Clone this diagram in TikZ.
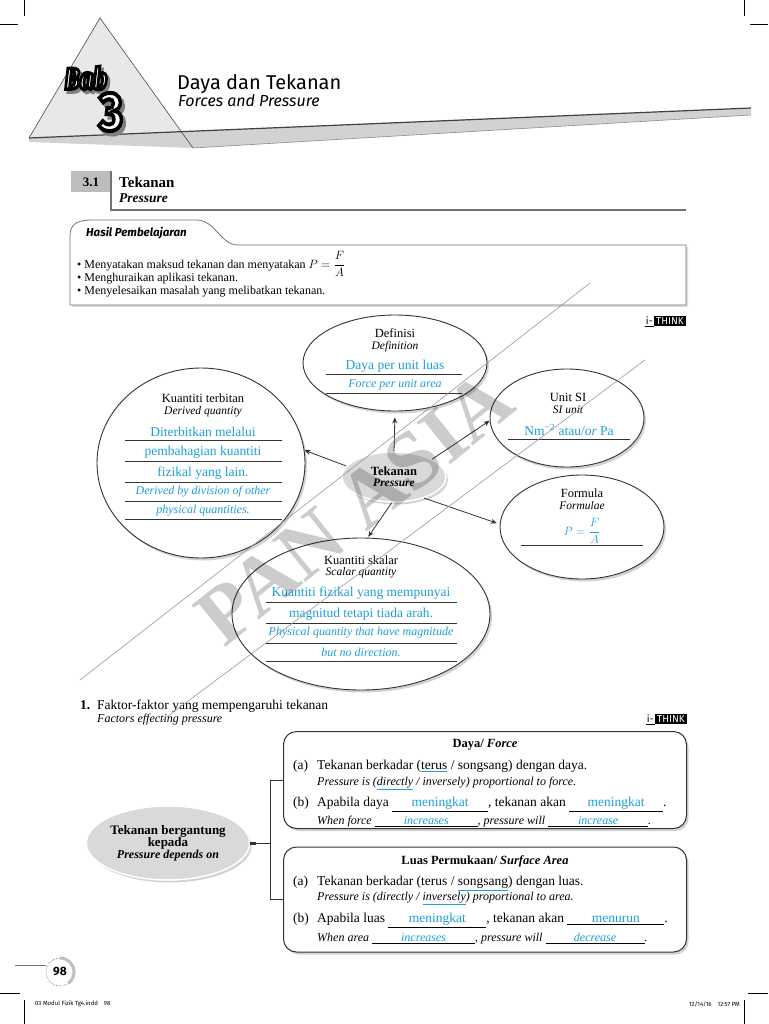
\documentclass[tikz,border=0pt]{standalone}
\usepackage{fontspec}
\setmainfont{Liberation Serif}
\newfontfamily\hdrfont{Fira Sans}
\usepackage{amsmath}
\usepackage{xcolor}
\definecolor{cAns}{HTML}{1D9FDB}
\definecolor{cInk}{HTML}{333333}
\definecolor{cHub}{HTML}{D9D9D9}
\definecolor{cSec}{HTML}{BDBDBD}
\usepackage{tikz}
\usetikzlibrary{positioning,arrows.meta,shapes.geometric,shadows,calc}

% blank to fill in, and a chosen word
\newcommand{\ansblank}[2]{\underline{\makebox[#1]{\textcolor{cAns}{#2}}}}
\newcommand{\pick}[1]{\textcolor{cAns}{\underline{\textcolor{black}{#1}}}}
% letters with a rim: width, rim grey level, text
\newcommand{\rimtext}[3]{\special{pdf:literal direct #1 w #2 G 2 Tr}#3\special{pdf:literal direct 0 Tr}}

\tikzset{
  bubble/.style={ellipse,draw=cInk,line width=0.9pt,fill=white,inner sep=0pt,
    drop shadow={shadow xshift=2pt,shadow yshift=-2.5pt,opacity=0.35}},
  hub/.style={ellipse,draw=white,line width=1.5pt,fill=cHub,inner sep=0pt,
    drop shadow={shadow xshift=2pt,shadow yshift=-2.5pt,opacity=0.35}},
  lbl/.style={inner sep=0pt,font=\fontsize{12.5}{14}\selectfont},
  lbl-it/.style={inner sep=0pt,font=\fontsize{11.5}{13}\selectfont\itshape},
  ans/.style={inner sep=0pt,text=cAns,font=\fontsize{13.5}{15}\selectfont},
  ans-it/.style={inner sep=0pt,text=cAns,font=\fontsize{12}{14}\selectfont\itshape},
  ans-line/.style={draw=cInk,line width=0.8pt},
  arrow/.style={-{Stealth[length=6pt,width=5pt]},draw=cInk,line width=0.8pt},
  card/.style={draw=cInk,line width=1pt,rounded corners=13pt,fill=white,
    drop shadow={shadow xshift=2pt,shadow yshift=-2.5pt,opacity=0.35}},
  row/.style={anchor=base west,inner sep=0pt,font=\fontsize{13.5}{15}\selectfont},
  row-it/.style={anchor=base west,inner sep=0pt,font=\fontsize{12}{14}\selectfont\itshape},
  link/.style={draw=cInk,line width=0.8pt},
  crop-line/.style={draw=black,line width=0.6pt},
  tag-box/.style={fill=black,text=white,inner xsep=2pt,inner ysep=1.5pt,
    font=\hdrfont\fontsize{10}{10}\selectfont},
  tag-i/.style={inner sep=1pt,font=\hdrfont\fontsize{10}{10}\selectfont},
  bab-txt/.style={font=\hdrfont\bfseries\itshape\fontsize{30}{30}\selectfont,xscale=0.8,transform shape,inner sep=0pt},
  num-txt/.style={font=\hdrfont\bfseries\fontsize{54}{54}\selectfont,xscale=0.85,transform shape,inner sep=0pt},
  bullet-row/.style={anchor=base west,inner sep=0pt,font=\fontsize{12}{14}\selectfont},
  foot-txt/.style={inner sep=0pt,font=\hdrfont\fontsize{6}{7}\selectfont},
  wm-text/.style={text=black,opacity=0.2,rotate=39,inner sep=0pt,
    font=\bfseries\fontsize{82}{82}\selectfont},
  wm-line/.style={draw=black!40,line width=0.6pt},
}

\begin{document}
\begin{tikzpicture}[x=1pt,y=-1pt]
  \useasboundingbox (0,0) rectangle (768,1024);
  \fill[white] (0,0) rectangle (768,1024);

  % crop marks
  \draw[crop-line] (24,0) -- (24,16);
  \draw[crop-line] (0,24) -- (18,24);
  \draw[crop-line] (744,0) -- (744,16);
  \draw[crop-line] (750,24) -- (768,24);
  \draw[crop-line] (0,993) -- (20,993);
  \draw[crop-line] (24,1000) -- (24,1024);
  \draw[crop-line] (748,993) -- (768,993);
  \draw[crop-line] (744,1000) -- (744,1024);

  % chapter header
  \fill[gray!18] (100,18) -- (29,138) -- (193,148) -- cycle;
  \fill[gray!35] (29,138) -- (751,108) -- (751,115) -- (193,148) -- (29,142) -- cycle;
  \draw[black!70,line width=0.6pt] (29,138) -- (100,18) -- (193,148);
  \draw[black!75,line width=1.2pt] (29,138) -- (751,108);
  \draw[black!45,line width=0.6pt] (193,148) -- (751,115);

  \node[bab-txt,text=black!50,xshift=3pt,yshift=-3pt] (bab-sh) at (86,78) {\rimtext{3.4}{0.5}{Bab}};
  \node[bab-txt,text=white] (bab) at (86,78) {\rimtext{3.4}{0}{Bab}};
  \node[num-txt,text=black!50,xshift=3.5pt,yshift=-3.5pt] (num-sh) at (111,112) {\rimtext{4}{0.5}{3}};
  \node[num-txt,text=white] (num) at (111,112) {\rimtext{4}{0}{3}};

  \node[anchor=base west,inner sep=0pt,font=\hdrfont\fontsize{20}{22}\selectfont] (ttl) at (177,90) {Daya dan Tekanan};
  \node[anchor=base west,inner sep=0pt,font=\hdrfont\itshape\fontsize{16}{18}\selectfont] (ttl-en) at (178,107) {Forces and Pressure};

  % section 3.1
  \node[fill=cSec,minimum width=40pt,minimum height=21pt,inner sep=0pt,
    font=\bfseries\fontsize{13}{13}\selectfont] (sec) at (91,182) {3.1};
  \coordinate (sec-end) at (686,210);
  \draw[black!55,line width=1.5pt] (sec.north east) |- (sec-end);
  \node[anchor=west,inner sep=0pt,font=\bfseries\fontsize{15}{15}\selectfont] (sec-ttl) at (119,182) {Tekanan};
  \node[anchor=west,inner sep=0pt,font=\bfseries\itshape\fontsize{13.5}{14}\selectfont] (sec-en) at (119,198) {Pressure};

  % learning outcomes
  \path[draw=black!55,line width=0.8pt,fill=white,
    drop shadow={shadow xshift=2pt,shadow yshift=-2pt,opacity=0.25}]
    (70,305) -- (70,236) .. controls (70,225) and (76,220) .. (92,220)
    -- (196,220) .. controls (216,220) and (220,245) .. (238,245)
    -- (686,245) -- (686,305) -- cycle;
  \node[anchor=west,inner sep=0pt,font=\hdrfont\bfseries\itshape\fontsize{11.5}{12}\selectfont] (hasil) at (86,233) {Hasil Pembelajaran};
  \node[bullet-row] (hasil-1) at (77,268) {\textbullet\ Menyatakan maksud tekanan dan menyatakan $P = \dfrac{F}{A}$};
  \node[bullet-row] (hasil-2) at (77,281) {\textbullet\ Menghuraikan aplikasi tekanan.};
  \node[bullet-row] (hasil-3) at (77,294) {\textbullet\ Menyelesaikan masalah yang melibatkan tekanan.};

  % i-THINK map
  \node[tag-box] (think-map) at (670,321) {THINK};
  \node[tag-i,left=0pt of think-map] (think-map-i) {i-};
  \draw[black,line width=0.5pt] (think-map-i.south west) -- (think-map-i.south east);

  \node[bubble,minimum width=208pt,minimum height=190pt] (terb) at (201,463) {};
  \node[bubble,minimum width=184pt,minimum height=96pt] (def) at (395,363) {};
  \node[bubble,minimum width=154pt,minimum height=98pt] (unit) at (567,418) {};
  \node[bubble,minimum width=164pt,minimum height=104pt] (form) at (582,527) {};
  \node[bubble,minimum width=258pt,minimum height=152pt] (skal) at (361,614) {};
  \node[hub,minimum width=104pt,minimum height=50pt,align=center] (tek) at (394,477)
    {\fontsize{12.5}{13}\selectfont\bfseries Tekanan\\[-1pt]
     \fontsize{11.5}{12}\selectfont\bfseries\itshape Pressure};

  \draw[arrow,shorten >=6pt] (tek.90) -- (def.270);
  \draw[arrow] (tek.25) -- (unit.182);
  \draw[arrow,shorten >=3pt] (tek.-35) -- (form.178);
  \draw[arrow,shorten >=1pt] (tek.-95) -- (skal.85);
  \draw[arrow] (tek.167) -- (terb.7);

  % definisi
  \node[lbl] (def-a) at (395,333) {Definisi};
  \node[lbl-it] (def-b) at (395,347) {Definition};
  \node[ans] (def-c) at (395,366) {Daya per unit luas};
  \draw[ans-line] (326,374) -- (462,374);
  \node[ans-it] (def-d) at (395,385) {Force per unit area};
  \draw[ans-line] (326,393) -- (462,393);

  % unit SI
  \node[lbl] (unit-a) at (568,397) {Unit SI};
  \node[lbl-it] (unit-b) at (568,410) {SI unit};
  \node[ans] (unit-c) at (569,430) {Nm\textsuperscript{−2} atau/\textit{or} Pa};
  \draw[ans-line] (508,439) -- (630,439);

  % formula
  \node[lbl] (form-a) at (582,493) {Formula};
  \node[lbl-it] (form-b) at (582,506) {Formulae};
  \node[ans-it] (form-c) at (582,531) {$P = \dfrac{F}{A}$};
  \draw[ans-line] (521,545) -- (643,545);

  % kuantiti terbitan
  \node[lbl] (terb-a) at (203,398) {Kuantiti terbitan};
  \node[lbl-it] (terb-b) at (203,412) {Derived quantity};
  \node[ans] (terb-c) at (203,432) {Diterbitkan melalui};
  \draw[ans-line] (125,440) -- (282,440);
  \node[ans] (terb-d) at (203,452) {pembahagian kuantiti};
  \draw[ans-line] (125,461) -- (282,461);
  \node[ans] (terb-e) at (203,473) {fizikal yang lain.};
  \draw[ans-line] (125,482) -- (282,482);
  \node[ans-it] (terb-f) at (203,492) {Derived by division of other};
  \draw[ans-line] (125,501) -- (282,501);
  \node[ans-it] (terb-g) at (203,511) {physical quantities.};
  \draw[ans-line] (125,519) -- (282,519);

  % kuantiti skalar
  \node[lbl] (skal-a) at (361,560) {Kuantiti skalar};
  \node[lbl-it] (skal-b) at (361,573) {Scalar quantity};
  \node[ans] (skal-c) at (361,593) {Kuantiti fizikal yang mempunyai};
  \draw[ans-line] (266,602) -- (457,602);
  \node[ans] (skal-d) at (361,614) {magnitud tetapi tiada arah.};
  \draw[ans-line] (266,623) -- (457,623);
  \node[ans-it] (skal-e) at (361,633) {Physical quantity that have magnitude};
  \draw[ans-line] (266,643) -- (457,643);
  \node[ans-it] (skal-f) at (361,652) {but no direction.};
  \draw[ans-line] (266,661) -- (457,661);

  % question 1
  \node[row,font=\bfseries\fontsize{13.5}{15}\selectfont] (q1-num) at (80,709) {1.};
  \node[row] (q1) at (97,709) {Faktor-faktor yang mempengaruhi tekanan};
  \node[row-it] (q1-en) at (97,722) {Factors effecting pressure};

  \node[tag-box] (think-q1) at (671,719) {THINK};
  \node[tag-i,left=0pt of think-q1] (think-q1-i) {i-};
  \draw[black,line width=0.5pt] (think-q1-i.south west) -- (think-q1-i.south east);

  \node[card,minimum width=403pt,minimum height=97pt] (daya) at (485,780) {};
  \node[card,minimum width=403pt,minimum height=105pt] (luas) at (485,899.5) {};

  \node[hub,minimum width=140pt,minimum height=74pt,align=center] (dep) at (168,843)
    {\fontsize{13}{12.5}\selectfont\bfseries Tekanan bergantung\\
     \fontsize{13}{12.5}\selectfont\bfseries kepada\\
     \fontsize{12}{12.5}\selectfont\bfseries\itshape Pressure depends on};
  \fill[cInk] ($(dep.east)+(0,-1.5)$) rectangle ++(6,3);
  \draw[link] (dep.east) -- ++(20,0) coordinate (fork) |- (daya.west);
  \draw[link] (fork) |- (luas.west);

  % daya
  \node[inner sep=0pt,font=\bfseries\fontsize{12.5}{14}\selectfont] (daya-t) at (485,745) {Daya/ \textit{Force}};
  \node[row] (daya-a) at (293,769) {(a)};
  \node[row] (daya-a1) at (317,769) {Tekanan berkadar (\pick{terus} / songsang) dengan daya.};
  \node[row-it] (daya-a2) at (317,785) {Pressure is (\pick{directly} / inversely) proportional to force.};
  \node[row] (daya-b) at (293,806) {(b)};
  \node[row] (daya-b1) at (317,806) {Apabila daya \ansblank{96pt}{meningkat}, tekanan akan \ansblank{94pt}{meningkat}.};
  \node[row-it] (daya-b2) at (317,824) {When force \ansblank{103pt}{increases}, pressure will \ansblank{100pt}{increase}.};

  % luas permukaan
  \node[inner sep=0pt,font=\bfseries\fontsize{12.5}{14}\selectfont] (luas-t) at (485,861) {Luas Permukaan/ \textit{Surface Area}};
  \node[row] (luas-a) at (293,885) {(a)};
  \node[row] (luas-a1) at (317,885) {Tekanan berkadar (terus / \pick{songsang}) dengan luas.};
  \node[row-it] (luas-a2) at (317,900) {Pressure is (directly / \pick{inversely}) proportional to area.};
  \node[row] (luas-b) at (293,922) {(b)};
  \node[row] (luas-b1) at (317,922) {Apabila luas \ansblank{98pt}{meningkat}, tekanan akan \ansblank{97pt}{menurun}.};
  \node[row-it] (luas-b2) at (317,941) {When area \ansblank{103pt}{increases}, pressure will \ansblank{99pt}{decrease}.};

  % page number
  \node[inner sep=0pt,font=\hdrfont\bfseries\fontsize{12}{12}\selectfont] (pg) at (60,972) {98};
  \draw[gray!50,line width=3pt] (pg) ++(0,-14) arc[start angle=90,end angle=-55,radius=14pt];
  \draw[black!60,densely dotted,line width=0.6pt] (pg) ++(0,-14) arc[start angle=90,end angle=300,radius=14pt];
  \coordinate (pg-line) at (15,965);
  \draw[black!55,line width=0.6pt] (pg-line) -- ++(31,0);

  % footer
  \node[foot-txt,anchor=west] (foot-l) at (35,1004) {03 Modul Fizik Tg4.indd\quad 98};
  \node[foot-txt,anchor=east] (foot-r) at (740,1004) {12/14/16\quad 12:57 PM};

  % watermark
  \draw[wm-line] (80,680) -- (590,283);
  \draw[wm-line] (160,722) -- (645,360);
  \node[wm-text] (wm) at (355,508) {PAN ASIA};
\end{tikzpicture}
\end{document}
